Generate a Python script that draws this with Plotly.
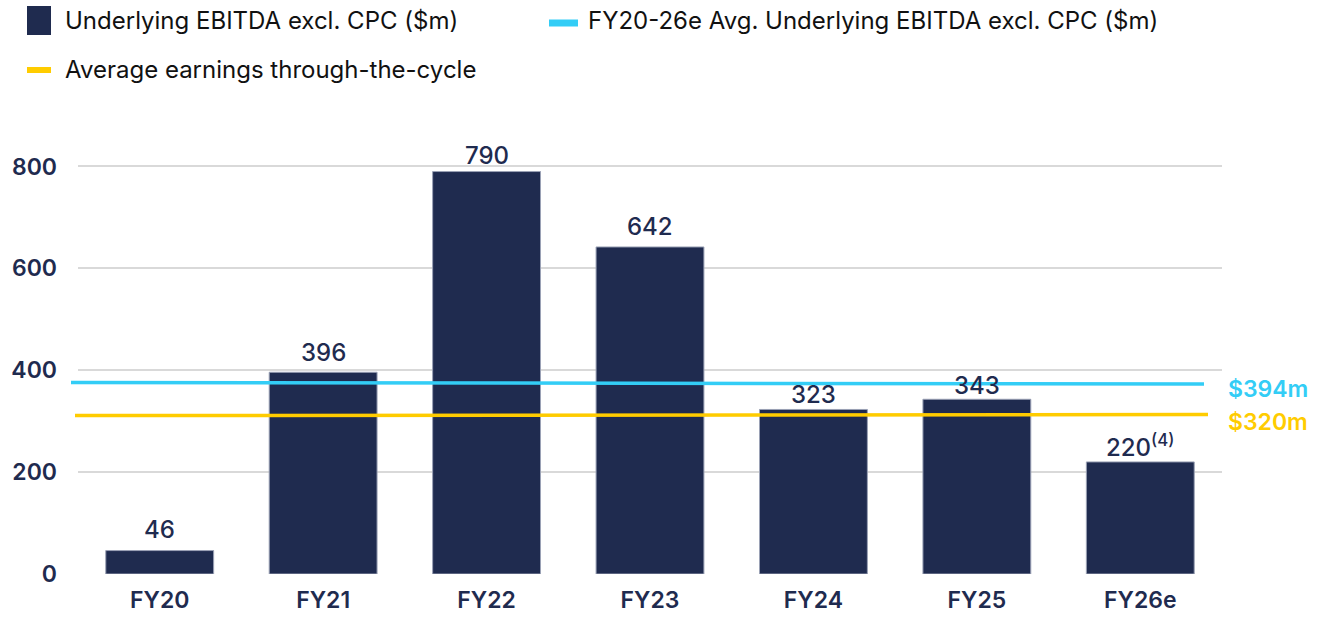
import plotly.graph_objects as go

categories = ["FY20", "FY21", "FY22", "FY23", "FY24", "FY25", "FY26e"]
ebitda = [46, 396, 790, 642, 323, 343, 220]
value_labels = ["46", "396", "790", "642", "323", "343", "220<sup>(4)</sup>"]
label_shift = [21, 20, 16, 20, 15, 14, 16]

# reference lines as drawn (level) and their labels
avg_drawn = [376, 373]       # cyan line left/right level
cycle_drawn = [311, 313]     # yellow line left/right level
avg_label = "$394m"
cycle_label = "$320m"

y_ticks = [0, 200, 400, 600, 800]

NAVY = "#1f2b4f"
CYAN = "#33cdf6"
YELLOW = "#ffcc00"
FONT = "Inter"

FIG_W, FIG_H = 1335, 617
L, R, T, B = 78, 1222, 141, 574
W, H = R - L, B - T
def px(x): return (x - L) / W
def py(y): return (B - y) / H

fig = go.Figure()
fig.add_trace(go.Bar(
    x=categories, y=ebitda, width=0.66,
    marker=dict(color=NAVY, line=dict(color="#9aa1b5", width=1)),
    name="Underlying EBITDA excl. CPC ($m)", showlegend=False,
    hoverinfo="x+y",
))

for c, v, t, s in zip(categories, ebitda, value_labels, label_shift):
    fig.add_annotation(x=c, y=v, text=t, showarrow=False, yanchor="middle",
                       yshift=s, font=dict(family=FONT, size=24, color=NAVY, weight=500))

# Average lines (slightly extend outside plot area as in reference)
fig.add_shape(type="line", xref="paper", yref="y", x0=px(71), x1=px(1204),
              y0=avg_drawn[0], y1=avg_drawn[1], line=dict(color=CYAN, width=3.5))
fig.add_shape(type="line", xref="paper", yref="y", x0=px(75), x1=px(1208),
              y0=cycle_drawn[0], y1=cycle_drawn[1], line=dict(color=YELLOW, width=3.5))
fig.add_annotation(xref="paper", yref="y", x=px(1226), y=avg_drawn[1], text=avg_label,
                   showarrow=False, xanchor="left", yanchor="middle", yshift=-5,
                   font=dict(family=FONT, size=23, color=CYAN, weight=600))
fig.add_annotation(xref="paper", yref="y", x=px(1226), y=cycle_drawn[1], text=cycle_label,
                   showarrow=False, xanchor="left", yanchor="middle", yshift=-7,
                   font=dict(family=FONT, size=23, color=YELLOW, weight=600))

# Manual legend
fig.add_shape(type="rect", xref="paper", yref="paper", x0=px(27), x1=px(51),
              y0=py(35), y1=py(6), fillcolor=NAVY, line=dict(width=0))
fig.add_annotation(xref="paper", yref="paper", x=px(63), y=py(21), text="Underlying EBITDA excl. CPC ($m)",
                   showarrow=False, xanchor="left", yanchor="middle",
                   font=dict(family=FONT, size=24, color="#111111"))
fig.add_shape(type="line", xref="paper", yref="paper", x0=px(549), x1=px(578),
              y0=py(23), y1=py(23), line=dict(color=CYAN, width=7))
fig.add_annotation(xref="paper", yref="paper", x=px(586), y=py(21),
                   text="FY20-26e Avg. Underlying EBITDA excl. CPC ($m)",
                   showarrow=False, xanchor="left", yanchor="middle",
                   font=dict(family=FONT, size=24, color="#111111"))
fig.add_shape(type="line", xref="paper", yref="paper", x0=px(27), x1=px(51),
              y0=py(70), y1=py(70), line=dict(color=YELLOW, width=6))
fig.add_annotation(xref="paper", yref="paper", x=px(63), y=py(70), text="Average earnings through-the-cycle",
                   showarrow=False, xanchor="left", yanchor="middle",
                   font=dict(family=FONT, size=24, color="#111111"))

fig.update_layout(
    width=FIG_W, height=FIG_H,
    margin=dict(l=L, r=FIG_W - R, t=T, b=FIG_H - B),
    paper_bgcolor="white", plot_bgcolor="white",
    showlegend=False,
    bargap=0.34,
    font=dict(family=FONT, color=NAVY),
)
fig.update_xaxes(range=[-0.5, 6.5], showline=False, ticks="", automargin=False,
                 tickfont=dict(family=FONT, size=23, color=NAVY, weight=600), ticklabelstandoff=10)
fig.update_yaxes(range=[0, 850], tickvals=y_ticks, showgrid=True, gridcolor="#d9d9d9", gridwidth=1.5,
                 zeroline=False, showline=False, ticks="", automargin=False,
                 tickfont=dict(family=FONT, size=23, color=NAVY, weight=600), ticklabelstandoff=20)

fig.write_html("out.html", config={"displayModeBar": False},
               post_script="document.body.style.margin='0';document.body.style.overflow='hidden';")
